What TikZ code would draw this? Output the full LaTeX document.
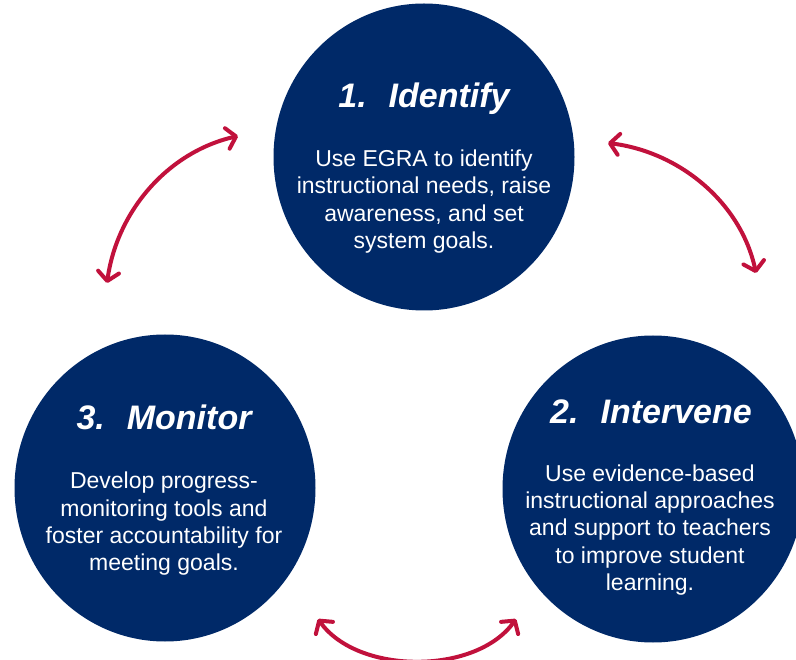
\documentclass[tikz,border=0pt]{standalone}
\usepackage{fontspec}
\setmainfont{Liberation Sans}
\usetikzlibrary{shapes.geometric,arrows.meta}
\definecolor{navy}{RGB}{0,41,104}
\definecolor{crimson}{RGB}{193,17,60}
\tikzset{
  bubble/.style={ellipse, fill=navy, minimum width=301pt, minimum height=307pt, inner sep=0pt},
  headline/.style={text=white, anchor=base, inner sep=0pt, font=\fontsize{34}{40}\selectfont\bfseries\itshape},
  bodytext/.style={text=white, anchor=center, inner sep=0pt, align=center, font=\fontsize{23}{27.3}\selectfont},
  cycle arrow/.style={draw=crimson, line width=4pt, line cap=round,
    >={Straight Barb[length=9pt,width=21pt,round]}, <->}
}
\begin{document}
\begin{tikzpicture}[x=1pt,y=-1pt]
\useasboundingbox (0,0) rectangle (796,660);
\fill[white] (0,0) rectangle (796,660);
\clip (0,0) rectangle (796,660);

% circles
\node[bubble] (identify) at (424,157) {};
\node[bubble] (monitor)  at (165,488) {};
\node[bubble] (intervene) at (653,489) {};

% titles
\node[headline] (t1) at (424,108) {1.\hspace{22pt}Identify};
\node[headline] (t3) at (164,430) {3.\hspace{22pt}Monitor};
\node[headline] (t2) at (651,424) {2.\hspace{22pt}Intervene};

% body texts
\node[bodytext] (b1) at (424,201.5) {Use EGRA to identify\\instructional needs, raise\\awareness, and set\\system goals.};
\node[bodytext] (b3) at (164,524) {Develop progress-\\monitoring tools and\\foster accountability for\\meeting goals.};
\node[bodytext] (b2) at (650,530) {Use evidence-based\\instructional approaches\\and support to teachers\\to improve student\\learning.};

% arrow end points
\coordinate (a1s) at (107,283);
\coordinate (a1e) at (238,136);
\coordinate (a2s) at (608,143);
\coordinate (a2e) at (756,273);
\coordinate (a3s) at (318,619);
\coordinate (a3e) at (516,619);

% arrows
\draw[cycle arrow] (a1s) .. controls (117,211) and (168,152) .. (a1e);
\draw[cycle arrow] (a2s) .. controls (680,152) and (741,203) .. (a2e);
\draw[cycle arrow] (a3s) .. controls (358,675) and (476,675) .. (a3e);
\end{tikzpicture}
\end{document}
